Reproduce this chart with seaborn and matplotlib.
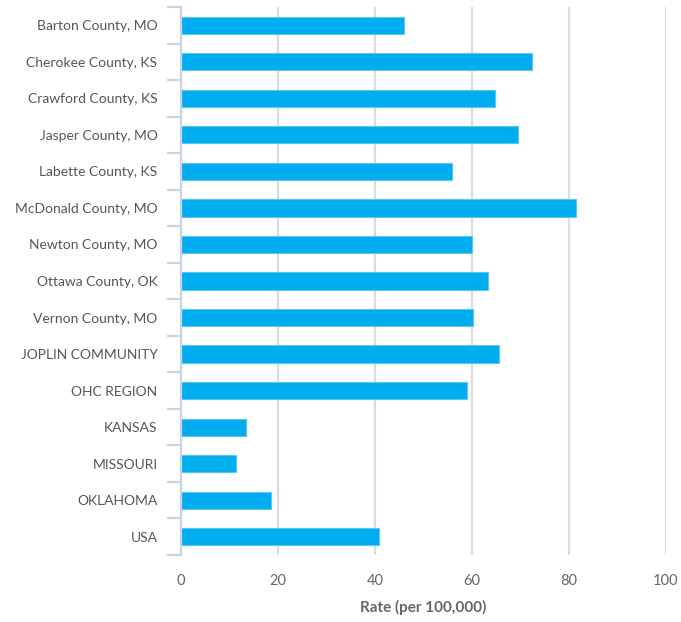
import matplotlib
matplotlib.use("Agg")
import matplotlib.pyplot as plt
import seaborn as sns
import pandas as pd
import numpy as np

categories = ["Barton County, MO", "Cherokee County, KS", "Crawford County, KS",
              "Jasper County, MO", "Labette County, KS", "McDonald County, MO",
              "Newton County, MO", "Ottawa County, OK", "Vernon County, MO",
              "JOPLIN COMMUNITY", "OHC REGION", "KANSAS", "MISSOURI",
              "OKLAHOMA", "USA"]
rates = [45.9, 72.4, 64.7, 69.4, 55.8, 81.4, 60.0, 63.3, 60.2, 65.6, 59.0,
         13.5, 11.4, 18.5, 40.9]
x_ticks = [0, 20, 40, 60, 80, 100]

df = pd.DataFrame({"category": categories, "rate": rates})

sns.set_theme(style="white")
plt.rcParams["font.family"] = ["Lato", "DejaVu Sans"]

fig = plt.figure(figsize=(6.81, 6.22), dpi=100)
ax = fig.add_axes([181 / 681, 1 - 555 / 622, 485 / 681, 548 / 622])

sns.barplot(data=df, x="rate", y="category", orient="h", color="#00AEEF",
            saturation=1, width=0.47, edgecolor="#5cc8f2", linewidth=0.8,
            ax=ax, zorder=3)

ax.set_xlim(0, 100)
ax.set_ylim(len(categories) - 0.5, -0.5)
ax.set_xticks(x_ticks)
ax.set_xticklabels([str(t) for t in x_ticks])
ax.grid(axis="x", color="#dcdcdc", linewidth=1.6, zorder=0)
ax.set_axisbelow(True)

for s in ["top", "right", "bottom"]:
    ax.spines[s].set_visible(False)
ax.spines["left"].set_color("#c7d4e4")
ax.spines["left"].set_linewidth(1.6)
ax.spines["left"].set_zorder(4)

ax.set_yticks(np.arange(len(categories)))
ax.set_yticklabels(categories)
ax.set_yticks(np.arange(-0.5, len(categories), 1.0), minor=True)
ax.tick_params(axis="y", which="major", left=False, length=0, pad=17,
               labelsize=10, labelcolor="#555555")
ax.tick_params(axis="y", which="minor", left=True, length=10, width=1.6,
               color="#c7d4e4")
ax.tick_params(axis="x", length=0, pad=14, labelsize=10.5, labelcolor="#666666")

ax.set_ylabel("")
ax.set_xlabel("Rate (per 100,000)", fontsize=11, fontweight="bold",
              color="#666666", labelpad=8)

fig.savefig("out.png", dpi=100)
